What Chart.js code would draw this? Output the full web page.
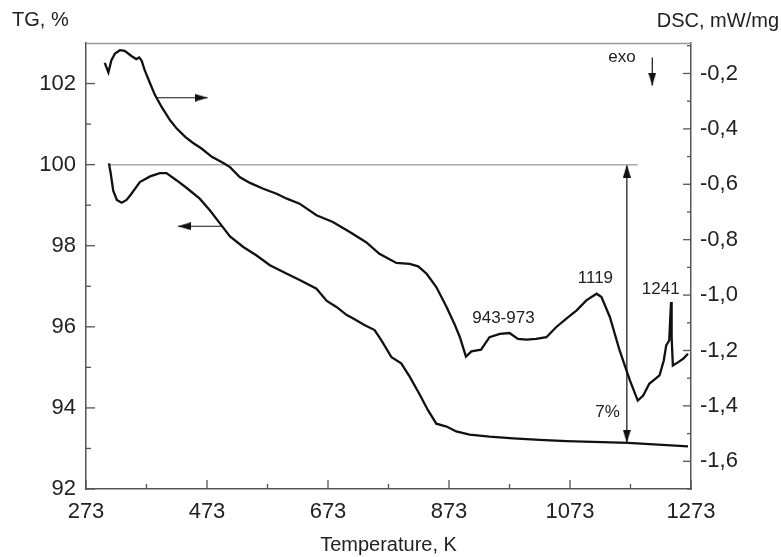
<!DOCTYPE html>
<html>
<head>
<meta charset="utf-8">
<script src="https://cdn.jsdelivr.net/npm/chart.js@4.4.1/dist/chart.umd.min.js"></script>
<style>
html,body{margin:0;padding:0;background:#fff;}
#wrap{width:781px;height:557px;}
</style>
</head>
<body>
<div id="wrap"><canvas id="chart" width="781" height="557"></canvas></div>
<script>
// DSC curve, mW/mg (right axis)
const dscT = [304,310,315,321,329,337,348,356,361,365,370,379,387,398,412,423,437,450,464,481,500,511,527,544,566,588,605,626,654,681,709,736,758,786,808,822,836,852,869,882,891,901,910,926,940,957,973,987,1001,1017,1034,1050,1067,1084,1100,1117,1125,1139,1155,1172,1185,1194,1204,1221,1228,1232,1237,1240,1241,1243,1252,1260,1268];
const dscVal = [-0.162,-0.196,-0.152,-0.128,-0.116,-0.118,-0.137,-0.148,-0.142,-0.154,-0.188,-0.236,-0.278,-0.321,-0.369,-0.399,-0.429,-0.451,-0.471,-0.501,-0.523,-0.538,-0.574,-0.595,-0.616,-0.634,-0.652,-0.670,-0.712,-0.736,-0.772,-0.809,-0.851,-0.884,-0.887,-0.896,-0.923,-0.971,-1.043,-1.104,-1.152,-1.222,-1.203,-1.197,-1.152,-1.140,-1.137,-1.158,-1.161,-1.158,-1.152,-1.116,-1.085,-1.055,-1.019,-0.995,-1.007,-1.080,-1.200,-1.308,-1.381,-1.363,-1.320,-1.290,-1.236,-1.182,-1.164,-1.025,-1.152,-1.254,-1.242,-1.230,-1.212];

// TG curve, % (left axis)
const tgT = [311,314,318,324,332,340,346,362,379,395,406,423,439,461,478,495,511,533,555,577,605,627,654,671,687,704,714,734,750,761,778,794,808,825,838,852,869,885,907,940,979,1023,1067,1169,1268];
const tgVal = [100.03,99.77,99.36,99.13,99.06,99.13,99.24,99.57,99.71,99.79,99.79,99.61,99.43,99.16,98.87,98.54,98.23,97.97,97.76,97.52,97.31,97.15,96.94,96.64,96.49,96.29,96.21,96.04,95.92,95.67,95.25,95.10,94.77,94.32,93.95,93.61,93.54,93.42,93.34,93.29,93.25,93.21,93.18,93.14,93.05];

// ticks
const tempTicks = [273,473,673,873,1073,1273];
const tempMinor = [373,573,773,973,1173];
const tgTicks = [92,94,96,98,100,102];
const tgMinor = [93,95,97,99,101];
const dscTicks = [-0.2,-0.4,-0.6,-0.8,-1.0,-1.2,-1.4,-1.6];
const dscMinor = [-0.1,-0.3,-0.5,-0.7,-0.9,-1.1,-1.3,-1.5,-1.7];

// reference line at 100 % and arrows (left axis units)
const refT = [310,1185], refTG = [100,100];
const lossT = [1167,1167], lossTG = [100,93.14];
const toDscT = [390,474], toDscTG = [101.65,101.65];
const toTgT = [497,425], toTgTG = [98.48,98.48];
const exoT = [1209,1209], exoTG = [102.64,101.95];

// text notes: [text, T, value, axis]
const notes = [
  ['1119', 1115, -0.94, 'y2'],
  ['943-973', 963, -1.083, 'y2'],
  ['1241', 1223, -0.98, 'y2'],
  ['7%', 1135, 93.88, 'y'],
  ['exo', 1159, 102.64, 'y']
];

const FONT = '"Liberation Sans", Arial, sans-serif';

function pts(xs, ys){ return xs.map((v,i)=>({x:v, y:ys[i]})); }

// arrow head image, tip at its centre, pointing up
function makeHead(w, h){
  const c = document.createElement('canvas');
  c.width = w; c.height = h*2;
  const g = c.getContext('2d');
  g.fillStyle = '#111';
  g.beginPath(); g.moveTo(w/2, h); g.lineTo(w, h*2); g.lineTo(0, h*2); g.closePath(); g.fill();
  return c;
}
const head = makeHead(8, 13);

function arrow(xs, ys, radii, rots){
  return {data: pts(xs, ys), yAxisID:'y', borderColor:'#111', borderWidth:1.2,
    pointStyle: head, pointRadius: radii, pointRotation: rots, pointHoverRadius:0};
}

const decor = {
  id:'decor',
  afterDatasetsDraw(chart){
    const {ctx, chartArea:a, scales:{x, y, y2}} = chart;
    ctx.save();
    ctx.lineWidth = 1.3;
    ctx.strokeStyle = '#999';
    ctx.beginPath(); ctx.moveTo(a.left, a.top+0.5); ctx.lineTo(a.right, a.top+0.5); ctx.stroke();
    ctx.strokeStyle = '#555';
    const tick = (x1,y1,x2,y2)=>{ ctx.beginPath(); ctx.moveTo(x1,y1); ctx.lineTo(x2,y2); ctx.stroke(); };
    tempTicks.forEach(v=>{ const p = x.getPixelForValue(v); tick(p, a.bottom, p, a.bottom-9); });
    tempMinor.forEach(v=>{ const p = x.getPixelForValue(v); tick(p, a.bottom, p, a.bottom-5); });
    tgTicks.forEach(v=>{ const p = y.getPixelForValue(v); tick(a.left, p, a.left+9, p); });
    tgMinor.forEach(v=>{ const p = y.getPixelForValue(v); tick(a.left, p, a.left+5, p); });
    dscTicks.forEach(v=>{ const p = y2.getPixelForValue(v); tick(a.right, p, a.right-8, p); });
    dscMinor.forEach(v=>{ const p = y2.getPixelForValue(v); tick(a.right, p, a.right-4, p); });

    ctx.fillStyle = '#222';
    ctx.textBaseline = 'middle';
    ctx.textAlign = 'center';
    ctx.font = '17px ' + FONT;
    notes.forEach(([t, tx, v, ax])=>{
      ctx.fillText(t, x.getPixelForValue(tx), chart.scales[ax].getPixelForValue(v));
    });
    ctx.font = '20px ' + FONT;
    ctx.fillText('Temperature, K', (a.left+a.right)/2, 545);
    ctx.textAlign = 'left';
    ctx.fillText('TG, %', 12, 20);
    ctx.textAlign = 'right';
    ctx.fillText('DSC, mW/mg', 779, 21);
    ctx.restore();
  }
};

const tickFont = {family: FONT, size: 22};
const axisLine = {display:true, color:'#555', width:1.5};

new Chart(document.getElementById('chart'), {
  type: 'line',
  data: {
    datasets: [
      {data: pts(dscT, dscVal), yAxisID:'y2', borderColor:'#111', borderWidth:2.3, pointRadius:0},
      {data: pts(tgT, tgVal), yAxisID:'y', borderColor:'#111', borderWidth:2.3, pointRadius:0},
      {data: pts(refT, refTG), yAxisID:'y', borderColor:'#aaa', borderWidth:1.5, pointRadius:0},
      arrow(lossT, lossTG, [5,5], [0,180]),
      arrow(toDscT, toDscTG, [0,5], [0,90]),
      arrow(toTgT, toTgTG, [0,5], [0,270]),
      arrow(exoT, exoTG, [0,5], [0,180])
    ]
  },
  options: {
    responsive: false,
    animation: false,
    layout: {padding: {top: 43}},
    plugins: {legend:{display:false}, tooltip:{enabled:false}},
    elements: {line:{tension:0}},
    scales: {
      x: {
        type:'linear', min:273, max:1273,
        afterBuildTicks: s=>{ s.ticks = tempTicks.map(v=>({value:v})); },
        afterFit: s=>{ s.height = 68; },
        ticks: {font: tickFont, color:'#222', padding:10, maxRotation:0, autoSkip:false, callback: v=>String(v)},
        grid: {drawOnChartArea:false, drawTicks:false},
        border: axisLine
      },
      y: {
        position:'left', min:92, max:103,
        afterBuildTicks: s=>{ s.ticks = tgTicks.map(v=>({value:v})); },
        afterFit: s=>{ s.width = 86; },
        ticks: {font: tickFont, color:'#222', padding:10},
        grid: {drawOnChartArea:false, drawTicks:false},
        border: axisLine
      },
      y2: {
        position:'right', min:-1.70, max:-0.09,
        afterBuildTicks: s=>{ s.ticks = dscTicks.map(v=>({value:v})); },
        afterFit: s=>{ s.width = 90; },
        ticks: {font: tickFont, color:'#222', padding:9, callback: v=>v.toFixed(1).replace('.', ',')},
        grid: {drawOnChartArea:false, drawTicks:false},
        border: axisLine
      }
    }
  },
  plugins: [decor]
});
</script>
</body>
</html>
